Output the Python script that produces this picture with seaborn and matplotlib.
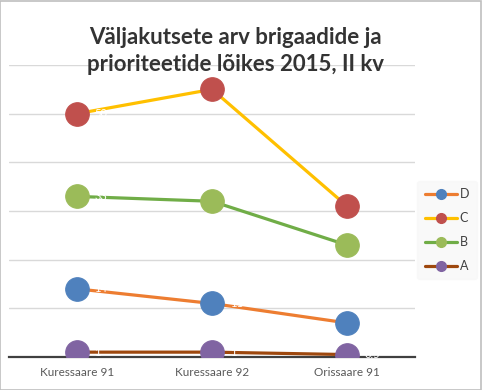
import matplotlib
matplotlib.use("Agg")
import matplotlib.pyplot as plt
from matplotlib.lines import Line2D
import seaborn as sns
import pandas as pd

categories = ["Kuressaare 91", "Kuressaare 92", "Orissaare 91"]
series_names = ["D", "C", "B", "A"]
values_d = [14, 11, 7]
values_c = [50, 55, 31]
values_b = [33, 32, 23]
values_a = [1, 1, 0.5]

line_colors = {"D": "#ed7d31", "C": "#ffc000", "B": "#70ad47", "A": "#9e480e"}
marker_colors = {"D": "#4f81bd", "C": "#c0504d", "B": "#9bbb59", "A": "#8064a2"}

sns.set_theme(style="white")
plt.rcParams["font.family"] = ["Lato", "DejaVu Sans"]

df = pd.DataFrame({
    "pos": list(range(len(categories))) * 4,
    "value": values_d + values_c + values_b + values_a,
    "series": sum([[s] * len(categories) for s in series_names], []),
})

fig = plt.figure(figsize=(4.82, 3.90), dpi=100)
ax = fig.add_axes([0.0197, 0.0846, 0.8404, 0.7487])

# draw A first so C ends on top like the reference
for name in ["A", "D", "B", "C"]:
    sub = df[df["series"] == name]
    sns.lineplot(data=sub, x="pos", y="value", ax=ax, color=line_colors[name],
                 linewidth=2.3, marker="o", markersize=17,
                 markerfacecolor=marker_colors[name], markeredgecolor=marker_colors[name],
                 legend=False, zorder=3)
    for x, y in zip(sub["pos"], sub["value"]):
        ax.text(x + 0.13, y, f"{y:g}", color="white", fontsize=8, va="center",
                ha="left", zorder=4)

ax.set_xlim(-0.5, 2.5)
ax.set_ylim(0, 60)
ax.set_yticks(range(0, 61, 10))
ax.yaxis.grid(True, color="#d9d9d9", linewidth=1)
ax.set_axisbelow(True)
ax.tick_params(axis="y", left=False, labelleft=False)
ax.set_xticks(range(len(categories)))
ax.set_xticklabels(categories, fontsize=8.5, color="#595959")
ax.tick_params(axis="x", length=0, pad=7)
ax.set_xlabel("")
ax.set_ylabel("")
for side in ["top", "right", "left"]:
    ax.spines[side].set_visible(False)
ax.spines["bottom"].set_color("#404040")
ax.spines["bottom"].set_linewidth(1.6)
ax.spines["bottom"].set_zorder(2)

fig.text(0.488, 0.869, "Väljakutsete arv brigaadide ja\nprioriteetide lõikes 2015, II kv",
         ha="center", va="center", fontsize=16, fontweight="bold", color="#333333",
         linespacing=1.4)

handles = [Line2D([0], [0], color=line_colors[s], linewidth=2.3, marker="o", markersize=7,
                  markerfacecolor=marker_colors[s], markeredgecolor=marker_colors[s])
           for s in series_names]
leg = fig.legend(handles, series_names, loc="center", bbox_to_anchor=(0.927, 0.41),
                 frameon=True, fontsize=9, handlelength=2.6, labelspacing=0.95,
                 handletextpad=0.2, borderpad=0.6)
leg.get_frame().set_facecolor("#f8f8f8")
leg.get_frame().set_edgecolor("#f8f8f8")
for t in leg.get_texts():
    t.set_color("#404040")

fig.patches.append(plt.Rectangle((0.001, 0.001), 0.997, 0.997, transform=fig.transFigure,
                                 fill=False, edgecolor="#bfbfbf", linewidth=1.2))

fig.savefig("out.png", dpi=100)
